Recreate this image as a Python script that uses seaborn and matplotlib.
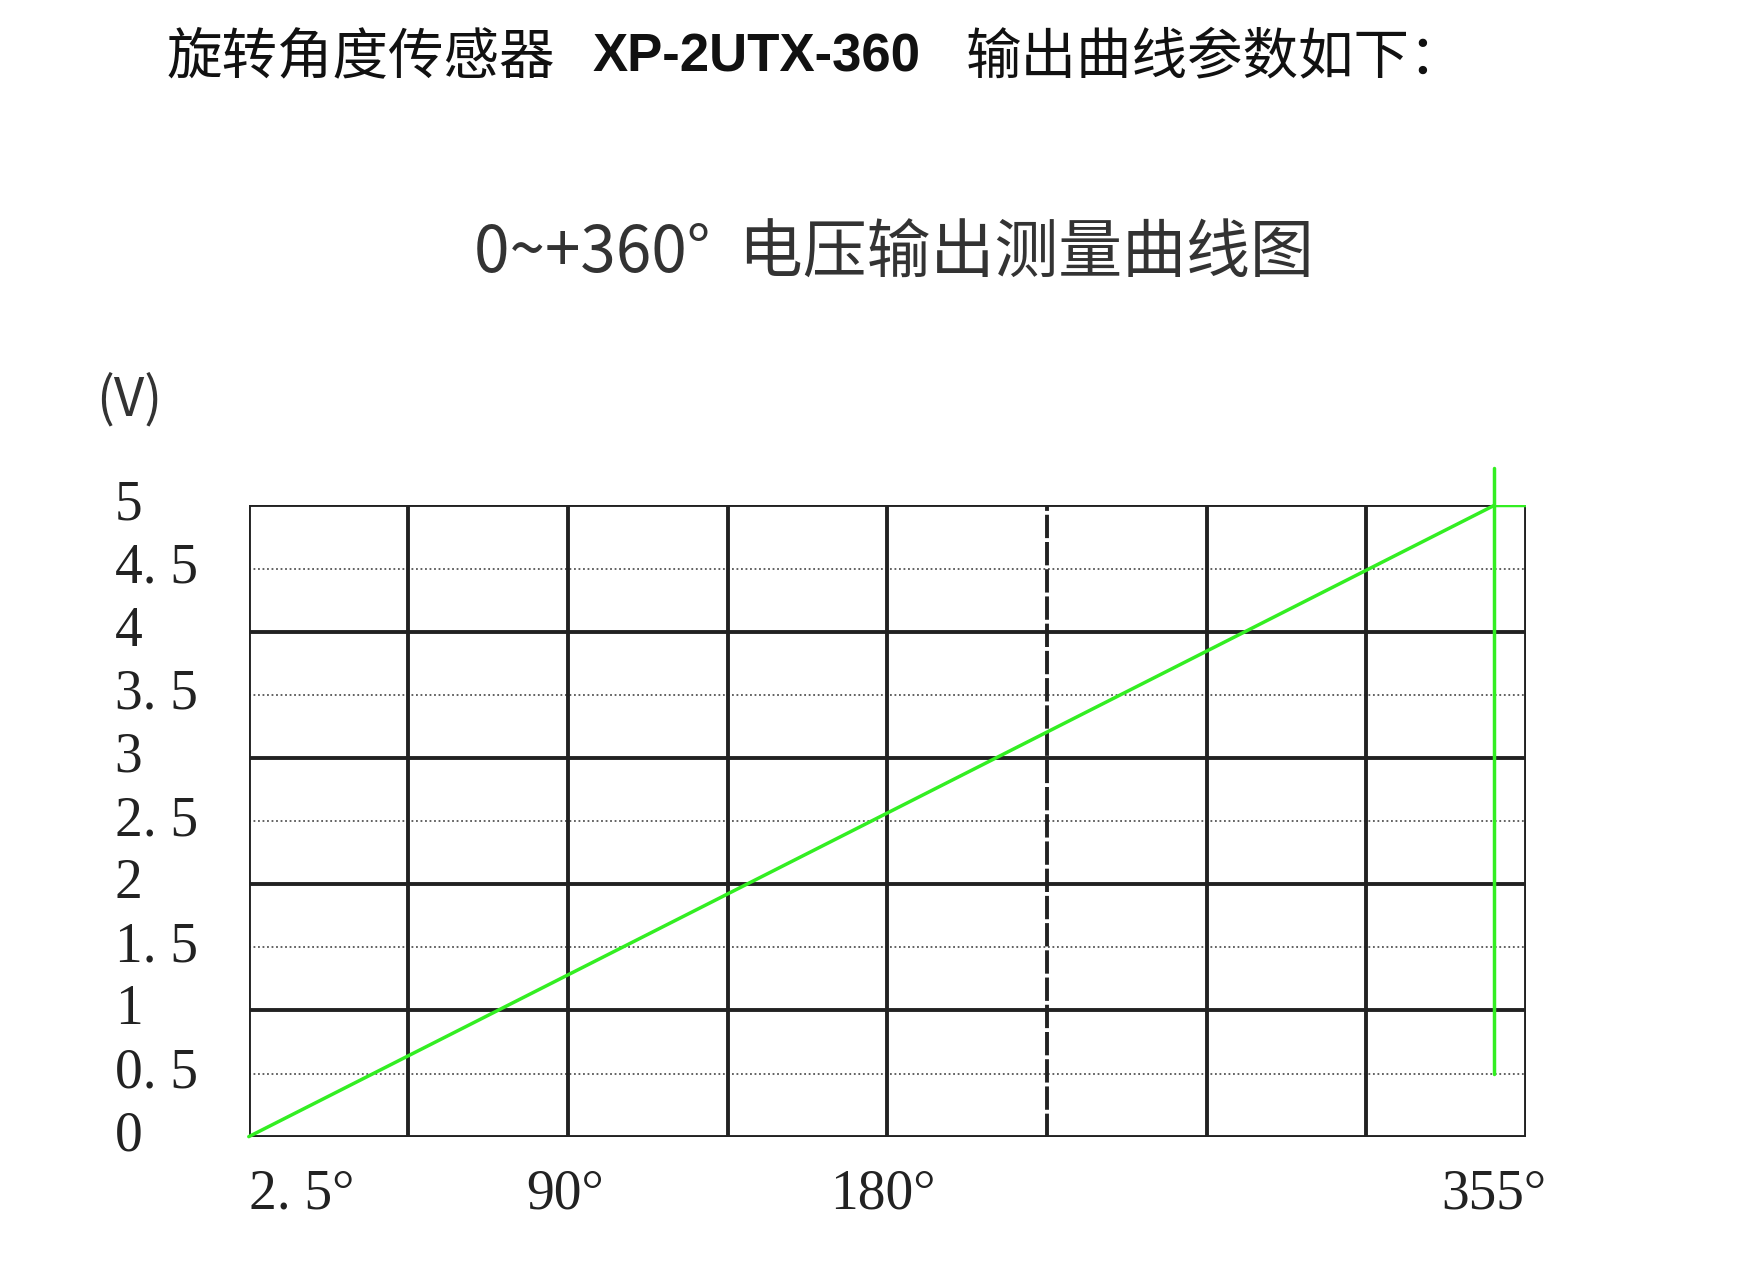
import numpy as np
import matplotlib
matplotlib.use('Agg')
import matplotlib.pyplot as plt
import seaborn as sns
import pandas as pd

# data
angle = [2.5, 355]          # degrees
voltage = [0, 5]            # volts
marker_angle = 355
marker_v = [0.5, 5.3]
y_ticks = [0, 0.5, 1, 1.5, 2, 2.5, 3, 3.5, 4, 4.5, 5]
y_labels = ['0', '0. 5', '1', '1. 5', '2', '2. 5', '3', '3. 5', '4', '4. 5', '5']
x_label_pos = [2.5, 92, 182, 355]
x_labels = ['2. 5°', '90°', '180°', '355°']

col_w = (355 - 2.5) / 7.8
x_grid = [2.5 + i * col_w for i in range(9)]

sns.set_style('white')
plt.rcParams['font.family'] = ['Noto Sans CJK SC', 'DejaVu Sans']

fig = plt.figure(figsize=(17.52, 12.70), dpi=100)
ax = fig.add_axes([0.142, 0.105, 0.729, 0.497])

df = pd.DataFrame({'angle': angle, 'voltage': voltage})
sns.lineplot(data=df, x='angle', y='voltage', color='#33ee22', lw=2.5, ax=ax, clip_on=False, zorder=5)
ax.plot([marker_angle, marker_angle], marker_v, color='#33ee22', lw=2.5, clip_on=False, zorder=5)
ax.plot([marker_angle, x_grid[-1]], [5, 5], color='#33ee22', lw=2.5, zorder=6)

for v in range(0, 6):
    ax.axhline(v, color='#222222', lw=2.8, zorder=1)
for v in np.arange(0.5, 5, 1):
    ax.axhline(v, color='#555555', lw=1.3, ls=(0, (1, 1.5)), zorder=1)
for i, g in enumerate(x_grid):
    ax.axvline(g, color='#222222', lw=2.8, ls='--' if i == 5 else '-',
               dashes=(6, 1) if i == 5 else (None, None), zorder=1)

ax.set_xlim(x_grid[0], x_grid[-1])
ax.set_ylim(0, 5)
for s in ax.spines.values():
    s.set_visible(False)
ax.set_xticks([])
ax.set_yticks([])
ax.set_xlabel('')
ax.set_ylabel('')

serif = 'Liberation Serif'
for t, lab in zip(y_ticks, y_labels):
    ax.text(-0.105, t, lab, transform=ax.get_yaxis_transform(), ha='left', va='center',
            fontsize=40, family=serif, color='#222222')
for p, lab in zip(x_label_pos, x_labels):
    ax.text(p, -0.25, lab, ha='left' if p < 10 else 'center', va='top',
            fontsize=40, family=serif, color='#222222', transform=ax.transData, clip_on=False)

fig.text(0.055, 0.685, '(V)', fontsize=38, family=['Noto Sans CJK SC', 'DejaVu Sans'],
         color='#333333', ha='left', va='center')
fig.text(0.51, 0.80, '0~+360°  电压输出测量曲线图', fontsize=46, ha='center', va='center',
         color='#333333', family=['Noto Sans CJK SC', 'DejaVu Sans'])
fig.text(0.095, 0.955, '旋转角度传感器', fontsize=40, ha='left', va='center', color='#111111')
fig.text(0.338, 0.955, 'XP-2UTX-360', fontsize=38, ha='left', va='center', color='#111111',
         weight='bold', family=['Liberation Sans', 'DejaVu Sans'])
fig.text(0.551, 0.955, '输出曲线参数如下：', fontsize=40, ha='left', va='center', color='#111111')

fig.savefig('out.png', dpi=100, facecolor='white')
